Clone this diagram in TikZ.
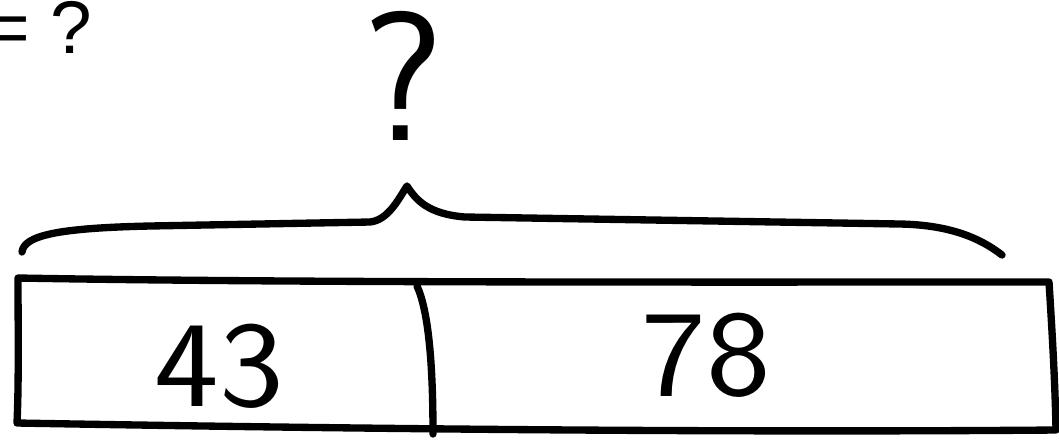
\documentclass[tikz,border=0pt]{standalone}
\usepackage{fontspec}
\newfontfamily\arialfont{Liberation Sans}
\begin{document}
\begin{tikzpicture}[x=0.75pt,y=-0.75pt,
  ink/.style={line width=5.5pt,line cap=round,line join=round},
  hand/.style={font=\sffamily\fontsize{92}{92}\selectfont,inner sep=0pt,xscale=1.12}]
\useasboundingbox (0,0) rectangle (1059,440);
% equation fragment
\node[font=\arialfont\fontsize{56}{56}\selectfont,inner sep=0pt,anchor=base east,text height=38pt] (eq) at (92.5,53) {= ?};
% question mark above brace
\node[font=\sffamily\fontsize{138}{138}\selectfont,inner sep=0pt,anchor=base,text height=98pt] (q) at (403,140) {?};
% brace
\draw[ink] (22,252) .. controls (24,235) and (60,228) .. (150,226)
  -- (370,222) .. controls (388,220) and (398,200) .. (407,186)
  .. controls (416,200) and (428,214) .. (465,217)
  -- (900,224) .. controls (950,225) and (980,238) .. (1002,255);
% bar
\coordinate (tl) at (18,278);
\coordinate (tr) at (1049,282);
\coordinate (br) at (1056,430);
\coordinate (bl) at (17,423);
\draw[ink] (tl) .. controls (300,283) and (700,282) .. (tr)
  .. controls (1052,330) and (1055,380) .. (br)
  .. controls (700,433) and (300,428) .. (bl)
  .. controls (19,380) and (18,320) .. (tl);
\coordinate (dt) at (417,286);
\coordinate (db) at (433,434);
\draw[ink] (dt) .. controls (428,310) and (433,360) .. (db);
% numbers
\node[hand] (n43) at (219,366) {43};
\node[hand] (n78) at (706,355) {78};
\end{tikzpicture}
\end{document}
